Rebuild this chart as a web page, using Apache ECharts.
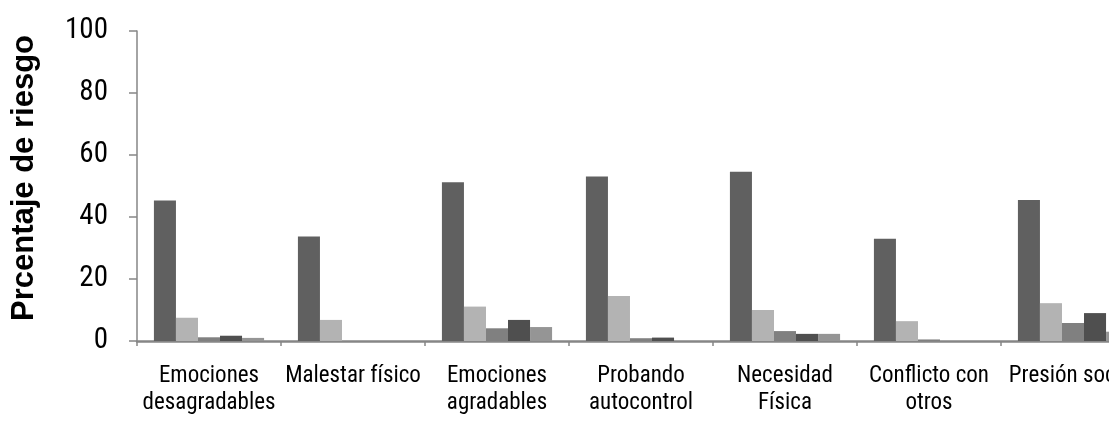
<!DOCTYPE html>
<html>
<head>
<meta charset="utf-8">
<script src="https://cdn.jsdelivr.net/npm/echarts@6/dist/echarts.min.js"></script>
<style>
html,body{margin:0;padding:0;background:#fff;overflow:hidden;width:1109px;height:425px;}
#c{width:1160px;height:425px;}
</style>
</head>
<body>
<div id="c"></div>
<script>
const categories = ["Emociones\ndesagradables", "Malestar físico", "Emociones\nagradables", "Probando\nautocontrol", "Necesidad\nFísica", "Conflicto con\notros", "Presión social"];
const yTicks = [0, 20, 40, 60, 80, 100];
const serie1 = [45.3, 33.7, 51.2, 53.1, 54.6, 33.0, 45.5];
const serie2 = [7.5, 6.8, 11.1, 14.5, 10.0, 6.4, 12.2];
const serie3 = [1.2, 0, 4.1, 0.9, 3.2, 0.5, 5.8];
const serie4 = [1.7, 0, 6.8, 1.1, 2.3, 0, 9.0];
const serie5 = [1.0, 0, 4.5, 0, 2.3, 0, 3.0];
const seriesNames = ["Serie 1", "Serie 2", "Serie 3", "Serie 4", "Serie 5"];
const colors = ["#606060", "#b3b3b3", "#808080", "#4f4f4f", "#959595"];

const narrow = '"Roboto Condensed", "Liberation Sans", sans-serif';
const chart = echarts.init(document.getElementById('c'), null, {renderer: 'canvas'});
const data = [serie1, serie2, serie3, serie4, serie5];
chart.setOption({
  animation: false,
  grid: {left: 137, right: 15, top: 31, bottom: 84, containLabel: false},
  xAxis: {
    type: 'category',
    data: categories,
    axisLine: {lineStyle: {color: '#868686', width: 2.5}},
    axisTick: {show: true, length: 5, lineStyle: {color: '#868686', width: 1.5}},
    axisLabel: {
      interval: 0,
      color: '#000',
      fontFamily: narrow,
      fontSize: 23,
      lineHeight: 27,
      margin: 22
    }
  },
  yAxis: {
    type: 'value',
    min: yTicks[0],
    max: yTicks[yTicks.length - 1],
    interval: yTicks[1] - yTicks[0],
    name: 'Prcentaje de riesgo',
    nameLocation: 'middle',
    nameGap: 97,
    nameRotate: 90,
    nameTextStyle: {
      color: '#000',
      fontFamily: '"Liberation Sans", Arial, sans-serif',
      fontWeight: 'bold',
      fontSize: 31,
      padding: [0, 0, 0, 16]
    },
    axisLine: {show: true, lineStyle: {color: '#868686', width: 1.5}},
    axisTick: {show: true, inside: false, length: 8, lineStyle: {color: '#868686', width: 1.5}},
    splitLine: {show: false},
    axisLabel: {
      color: '#000',
      fontFamily: narrow,
      fontSize: 29,
      margin: 29
    }
  },
  series: data.map((d, i) => ({
    name: seriesNames[i],
    type: 'bar',
    data: d,
    barGap: '0%',
    barCategoryGap: '23.5%',
    itemStyle: {color: colors[i]}
  }))
});
</script>
</body>
</html>
